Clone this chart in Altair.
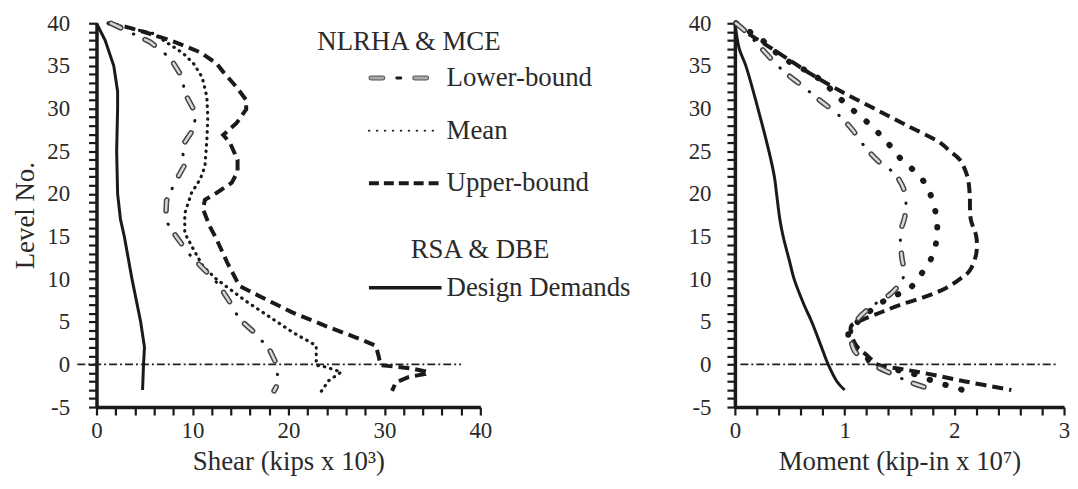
import altair as alt
import pandas as pd

FONT = "Liberation Serif"
INK = "#1a1a1a"
LABEL_INK = "#2a2a2a"

# ---------------- axis ticks ----------------
LEVEL_TICKS = list(range(-5, 41))
SHEAR_TICKS = list(range(0, 41, 2))
MOMENT_TICKS = [round(i * 0.2, 1) for i in range(16)]

# ---------------- Shear panel (kips x 10^3) ----------------
SHEAR_DESIGN_LEVEL = [40, 38, 35, 32, 30, 25, 20, 17, 15, 10, 5, 2, 0, -3]
SHEAR_DESIGN_VALUE = [0.0, 0.9, 1.8, 2.2, 2.2, 2.1, 2.2, 2.5, 2.9, 3.7, 4.6, 5.0, 4.9, 4.8]

SHEAR_UPPER_LEVEL = [40, 39.6, 39, 38, 36.6, 35.3, 34.3, 32.5, 31, 29.9, 28.3, 26.9, 26, 24, 22.6,
                     21.3, 20.1, 19.3, 18.2, 16.2, 14.7, 12, 9.2, 8, 6.1, 4.5, 3, 2.2, 1, -0.1,
                     -0.3, -0.5, -0.9, -1.1, -1.5, -2.1, -3.1]
SHEAR_UPPER_VALUE = [1.2, 3.0, 4.9, 7.7, 10.8, 12.5, 13.2, 14.6, 15.6, 15.6, 14.6, 13.2, 13.9, 14.7,
                     14.7, 14.1, 12.5, 11.3, 11.1, 11.8, 12.5, 13.6, 14.9, 17.0, 20.4, 23.9, 27.4,
                     29.1, 29.4, 29.6, 31.5, 32.9, 34.6, 34.3, 32.5, 31.2, 30.8]

SHEAR_MEAN_LEVEL = [40, 38.8, 36.5, 35.3, 33.7, 31.4, 29, 26.3, 23.2, 21.7, 20.1, 17.7, 15.4, 13.5,
                    11.5, 10, 7.4, 3.8, 2.2, -0.1, -0.3, -0.9, -1.9, -3.2]
SHEAR_MEAN_VALUE = [1.2, 5.9, 9.0, 10.1, 11.0, 11.5, 11.6, 11.5, 11.3, 10.8, 9.9, 9.2, 9.2, 10.1,
                    11.1, 12.5, 15.6, 20.4, 22.9, 22.9, 23.9, 25.5, 24.2, 23.4]

SHEAR_LOWER_LEVEL = [40, 37.8, 35.9, 33.9, 31.6, 29.3, 27.4, 25.4, 23.6, 21.4, 19.2, 16.9, 15.0,
                     13.0, 9.4, 7.3, 5.3, 3.7, 1.8, -0.3, -2.5, -3.1]
SHEAR_LOWER_VALUE = [1.5, 5.6, 7.7, 8.8, 9.3, 10.4, 10.0, 8.8, 9.3, 8.2, 7.3, 7.2, 8.3, 9.6, 12.7,
                     13.9, 14.9, 16.5, 18.0, 18.9, 18.8, 18.5]

SHEAR_ZERO_LINE = [-2.0, 38.0]

# ---------------- Moment panel (kip-in x 10^7) ----------------
MOMENT_DESIGN_LEVEL = [40, 37, 35, 30, 25, 22, 20, 17, 15, 12, 10, 7, 5, 2, 0, -2, -3]
MOMENT_DESIGN_VALUE = [0.0, 0.04, 0.1, 0.21, 0.31, 0.36, 0.38, 0.41, 0.44, 0.5, 0.54, 0.63, 0.7,
                       0.79, 0.85, 0.93, 1.0]

MOMENT_UPPER_LEVEL = [40, 39, 37.5, 36, 34, 32, 30, 28, 26, 25, 24, 22, 20, 17, 15, 13, 11, 10, 9,
                      8, 7, 6, 5, 4.5, 3.5, 2, 1, 0, -0.5, -1, -2, -3]
MOMENT_UPPER_VALUE = [0.01, 0.1, 0.28, 0.46, 0.7, 0.97, 1.27, 1.57, 1.87, 1.96, 2.05, 2.12, 2.14,
                      2.15, 2.2, 2.2, 2.14, 2.05, 1.93, 1.75, 1.51, 1.31, 1.12, 1.06, 1.06, 1.12,
                      1.21, 1.3, 1.5, 1.72, 2.1, 2.52]

MOMENT_MEAN_LEVEL = [40, 38, 36, 34.5, 33, 32, 30, 28, 26, 24, 22, 20, 17, 15, 13, 11, 9, 8, 7, 6,
                     5, 4, 3, 2, 1, 0, -0.5, -1, -2, -3]
MOMENT_MEAN_VALUE = [0.01, 0.25, 0.43, 0.64, 0.82, 0.89, 1.06, 1.24, 1.39, 1.52, 1.69, 1.78, 1.84,
                     1.84, 1.81, 1.72, 1.6, 1.45, 1.3, 1.21, 1.12, 1.04, 1.04, 1.09, 1.18, 1.28,
                     1.42, 1.6, 1.82, 2.08]

MOMENT_LOWER_LEVEL = [40, 39, 35.7, 34.2, 32.6, 31, 29.3, 27.7, 25.6, 23.8, 22.3, 20.1, 17.4, 15.5,
                      12.7, 10.4, 8.4, 7.1, 5.3, 3.5, 1.6, 0.1, -1.1, -2.1, -2.9]
MOMENT_LOWER_VALUE = [0.01, 0.1, 0.34, 0.46, 0.62, 0.77, 0.94, 1.06, 1.18, 1.31, 1.46, 1.55, 1.55,
                      1.51, 1.52, 1.54, 1.43, 1.28, 1.12, 1.06, 1.09, 1.24, 1.43, 1.6, 1.79]

MOMENT_ZERO_LINE = [0.05, 2.95]

# ---------------- legend text ----------------
LEGEND_HEAD_1 = "NLRHA & MCE"
LEGEND_HEAD_2 = "RSA  & DBE"
LEGEND_LABELS = ["Lower-bound", "Mean", "Upper-bound", "Design Demands"]

AXIS_STYLE = dict(
    grid=False, labelFlush=False,
    domainColor=INK, domainWidth=3.5,
    tickColor=INK, tickWidth=2.2, tickSize=8,
    labelFont=FONT, labelFontSize=23, labelColor=LABEL_INK,
    titleFont=FONT, titleFontSize=27, titleFontWeight="normal", titleColor=LABEL_INK,
)


def frame(levels, values):
    return pd.DataFrame({"level": levels, "value": values, "i": list(range(len(levels)))})


def panel(design, upper, mean, lower, zero_x, xdomain, xticks, xlabel_expr, xtitle, ytitle,
          ylabel_pad, width, interp, mean_width, mean_dash, legend_layers):
    xenc = alt.X("value:Q",
                 scale=alt.Scale(domain=xdomain, nice=False, zero=False),
                 axis=alt.Axis(values=xticks, labelExpr=xlabel_expr, title=xtitle,
                               titlePadding=6, labelPadding=5, **AXIS_STYLE))
    yexpr = "datum.value % 5 == 0 ? toString(datum.value) : ''"
    if ytitle:
        yaxis = alt.Axis(values=LEVEL_TICKS, labelExpr=yexpr, labelPadding=ylabel_pad,
                         titlePadding=7, title=ytitle, **AXIS_STYLE)
    else:
        yaxis = alt.Axis(values=LEVEL_TICKS, labelExpr=yexpr, labelPadding=ylabel_pad,
                         title=None, **AXIS_STYLE)
    yenc = alt.Y("level:Q", scale=alt.Scale(domain=[-5, 40], nice=False, zero=False), axis=yaxis)
    order = alt.Order("i:Q")

    zero = alt.Chart(frame([0, 0], zero_x)).mark_line(
        color="#222222", strokeWidth=1.8, strokeDash=[8, 3, 2, 3]
    ).encode(x=xenc, y=yenc, order=order)

    d_line = alt.Chart(design).mark_line(
        color=INK, strokeWidth=3, interpolate=interp
    ).encode(x=xenc, y=yenc, order=order)

    u_line = alt.Chart(upper).mark_line(
        color=INK, strokeWidth=4, strokeDash=[11, 6], interpolate=interp
    ).encode(x=xenc, y=yenc, order=order)

    m_line = alt.Chart(mean).mark_line(
        color=INK, strokeWidth=mean_width, strokeDash=mean_dash, strokeCap="round",
        interpolate=interp
    ).encode(x=xenc, y=yenc, order=order)

    l_out = alt.Chart(lower).mark_line(
        color="#444444", strokeWidth=5.5, strokeDash=[11, 27], strokeCap="round",
        interpolate=interp
    ).encode(x=xenc, y=yenc, order=order)
    l_fill = alt.Chart(lower).mark_line(
        color="#d8d8d8", strokeWidth=2.5, strokeDash=[11, 27], strokeCap="round",
        interpolate=interp
    ).encode(x=xenc, y=yenc, order=order)
    l_dot = alt.Chart(lower).mark_line(
        color=INK, strokeWidth=3, strokeDash=[0.5, 37.5], strokeDashOffset=13,
        strokeCap="round", interpolate=interp
    ).encode(x=xenc, y=yenc, order=order)

    layers = [zero, d_line, m_line, u_line, l_out, l_fill, l_dot] + legend_layers
    return alt.layer(*layers).properties(width=width, height=386)


# ---------------- hand-drawn legend (left panel pixel space) ----------------
dummy = pd.DataFrame({"k": [0]})


def text_at(txt, x, y):
    return alt.Chart(dummy).mark_text(
        text=txt, align="left", baseline="middle", font=FONT, fontSize=27, color=LABEL_INK
    ).encode(x=alt.value(x), y=alt.value(y))


def rule_at(x1, x2, y, **kw):
    return alt.Chart(dummy).mark_rule(**kw).encode(
        x=alt.value(x1), x2=alt.value(x2), y=alt.value(y))


legend = [
    text_at(LEGEND_HEAD_1, 222, 19),
    rule_at(276, 332, 55, color="#555555", strokeWidth=5, strokeDash=[12, 32], strokeCap="round"),
    rule_at(276, 332, 55, color="#aaaaaa", strokeWidth=3, strokeDash=[12, 32], strokeCap="round"),
    rule_at(302, 306, 55, color=INK, strokeWidth=3, strokeCap="round"),
    text_at(LEGEND_LABELS[0], 352, 55),
    rule_at(274, 339, 108, color=INK, strokeWidth=2, strokeDash=[0.5, 7.5], strokeCap="round"),
    text_at(LEGEND_LABELS[1], 352, 108),
    rule_at(274, 345, 161, color=INK, strokeWidth=4, strokeDash=[10, 5]),
    text_at(LEGEND_LABELS[2], 352, 161),
    text_at(LEGEND_HEAD_2, 316, 228),
    rule_at(274, 347, 266, color=INK, strokeWidth=3.5),
    text_at(LEGEND_LABELS[3], 352, 266),
]

left = panel(
    frame(SHEAR_DESIGN_LEVEL, SHEAR_DESIGN_VALUE),
    frame(SHEAR_UPPER_LEVEL, SHEAR_UPPER_VALUE),
    frame(SHEAR_MEAN_LEVEL, SHEAR_MEAN_VALUE),
    frame(SHEAR_LOWER_LEVEL, SHEAR_LOWER_VALUE),
    SHEAR_ZERO_LINE, [0, 40], SHEAR_TICKS,
    "datum.value % 10 == 0 ? datum.label : ''",
    "Shear (kips x 10\u00b3)", "Level  No.", 19, 386, "linear",
    3.2, [0.5, 6], legend,
)

right = panel(
    frame(MOMENT_DESIGN_LEVEL, MOMENT_DESIGN_VALUE),
    frame(MOMENT_UPPER_LEVEL, MOMENT_UPPER_VALUE),
    frame(MOMENT_MEAN_LEVEL, MOMENT_MEAN_VALUE),
    frame(MOMENT_LOWER_LEVEL, MOMENT_LOWER_VALUE),
    MOMENT_ZERO_LINE, [0, 3], MOMENT_TICKS,
    "abs(datum.value - round(datum.value)) < 0.001 ? format(datum.value, 'd') : ''",
    "Moment (kip-in x 10\u2077)", None, 16, 331, "catmull-rom",
    6, [0.5, 16], [],
)

chart = alt.hconcat(
    left, right, spacing=256, bounds="flush",
    padding={"left": 4, "top": 2, "right": 0, "bottom": 0},
    background="white",
).configure_view(stroke=None)

chart.save("out.html", embed_options={"renderer": "svg", "actions": False})
